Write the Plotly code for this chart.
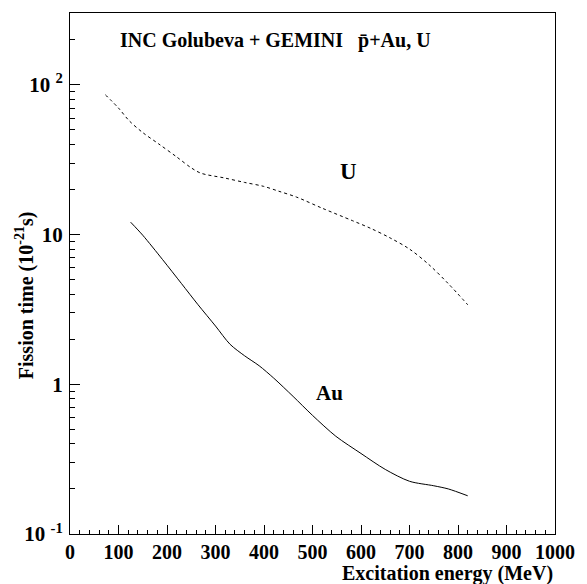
import plotly.graph_objects as go

# U (dashed) curve
u_energy = [73, 100, 122, 150, 183, 220, 250, 270, 318, 360, 399, 430, 467, 520, 582, 620, 660, 700, 740, 780, 820]
u_time = [85.8, 70, 57.6, 48, 40.3, 33, 27.9, 25.7, 23.9, 22.3, 21, 19.5, 17.8, 15, 12.4, 11.0, 9.5, 8.0, 6.3, 4.7, 3.4]

# Au (solid) curve
au_energy = [125, 150, 191, 230, 264, 300, 330, 360, 390, 420, 460, 500, 548, 600, 650, 700, 750, 780, 820]
au_time = [12.1, 9.9, 6.8, 4.7, 3.4, 2.45, 1.85, 1.55, 1.33, 1.1, 0.83, 0.62, 0.45, 0.345, 0.27, 0.225, 0.21, 0.2, 0.18]

x_tickvals = list(range(0, 1001, 100))
x_ticktext = [str(v) for v in x_tickvals]
y_tickvals = [0.1, 1, 10, 100]
y_ticktext = ["10 <sup>-1</sup>", "1", "10", "10 <sup>2</sup>"]
y_minor = [m * 10.0 ** d for d in (-1, 0, 1, 2) for m in range(2, 10) if m * 10.0 ** d < 300]

FONT = "Liberation Serif"

fig = go.Figure()
fig.add_trace(go.Scatter(x=u_energy, y=u_time, mode="lines",
                         line=dict(color="black", width=1, dash="3px,3px", shape="spline", smoothing=0.9),
                         showlegend=False))
fig.add_trace(go.Scatter(x=au_energy, y=au_time, mode="lines",
                         line=dict(color="black", width=1, shape="spline", smoothing=0.8),
                         showlegend=False))

fig.update_layout(
    width=587, height=584,
    margin=dict(l=70, r=24, t=12, b=50),
    plot_bgcolor="white", paper_bgcolor="white",
    font=dict(family=FONT, color="black", size=20, weight="bold"),
    showlegend=False,
)
fig.update_xaxes(
    range=[0, 1000], tickvals=x_tickvals, ticktext=x_ticktext,
    ticks="inside", ticklen=9, tickwidth=1, tickcolor="black",
    minor=dict(dtick=20, ticks="inside", ticklen=4, tickcolor="black", tickwidth=1),
    showline=True, linecolor="black", linewidth=1, mirror=True,
    showgrid=False, zeroline=False,
    tickfont=dict(family=FONT, size=20, weight="bold"),
    ticklabelstandoff=0,
)
fig.update_yaxes(
    type="log", range=[-1, 2.48], tickvals=y_tickvals, ticktext=y_ticktext,
    ticks="inside", ticklen=10, tickwidth=1, tickcolor="black",
    minor=dict(ticks="inside", ticklen=5, tickcolor="black", tickwidth=1, tickvals=y_minor),
    showline=True, linecolor="black", linewidth=1, mirror=True,
    showgrid=False, zeroline=False,
    tickfont=dict(family=FONT, size=21, weight="bold"),
    ticklabelstandoff=2,
)

fig.add_annotation(text="INC Golubeva + GEMINI   p\u0304+Au, U", xref="paper", yref="paper",
                   x=(279 - 70) / 493, y=(534 - 40) / 522, xanchor="center", yanchor="middle",
                   showarrow=False, font=dict(family=FONT, size=20, weight="bold"))
fig.add_annotation(text="U", xref="paper", yref="paper",
                   x=(353 - 70) / 493, y=(534 - 171) / 522, xanchor="center", yanchor="middle",
                   showarrow=False, font=dict(family=FONT, size=23, weight="bold"))
fig.add_annotation(text="Au", xref="paper", yref="paper",
                   x=(334 - 70) / 493, y=(534 - 393) / 522, xanchor="center", yanchor="middle",
                   showarrow=False, font=dict(family=FONT, size=21, weight="bold"))
fig.add_annotation(text="Excitation energy (MeV)", xref="paper", yref="paper",
                   x=1.0, y=(534 - 574) / 522, xanchor="right", yanchor="middle",
                   showarrow=False, font=dict(family=FONT, size=20, weight="bold"))
fig.add_annotation(text="Fission time (10<sup>-21</sup>s)", xref="paper", yref="paper",
                   x=(24 - 70) / 493, y=(534 - 295) / 522, xanchor="center", yanchor="middle",
                   textangle=-90, showarrow=False, font=dict(family=FONT, size=20, weight="bold"))

fig.write_html("out.html")
